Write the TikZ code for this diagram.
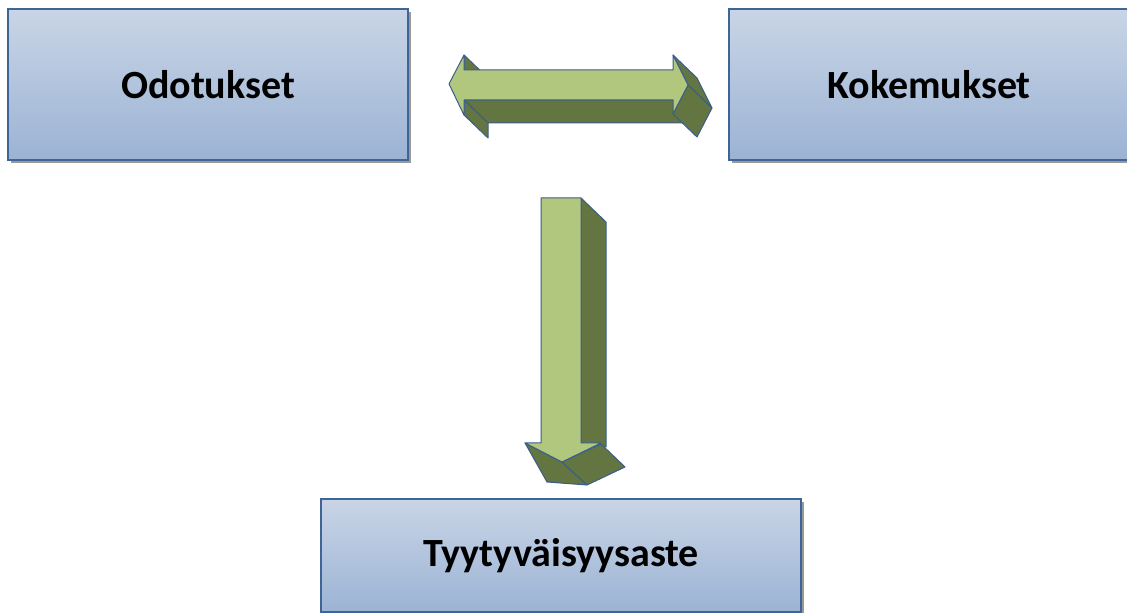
\documentclass[tikz,border=0pt]{standalone}
\usepackage{fontspec}
\setmainfont{Carlito}
\usetikzlibrary{shadows}
\definecolor{boxtop}{HTML}{C9D5E6}
\definecolor{boxbot}{HTML}{9BB3D4}
\definecolor{boxline}{HTML}{3F6496}
\definecolor{armlight}{HTML}{B1C77D}
\definecolor{armdark}{HTML}{637540}
\definecolor{armline}{HTML}{3A5E8C}

\begin{document}
\begin{tikzpicture}[
    x=0.5pt, y=-0.5pt,
    box/.style={rectangle, draw=boxline, line width=0.8pt, top color=boxtop, bottom color=boxbot, inner sep=0pt, minimum width=200pt, minimum height=75.5pt, font=\fontsize{20}{24}\selectfont\bfseries, drop shadow={shadow xshift=1.5pt, shadow yshift=-1.5pt, fill=black!40, opacity=1}},
    front/.style={fill=armlight, draw=armline, line width=0.5pt, line join=round},
    side/.style={fill=armdark, draw=armline, line width=0.5pt, line join=round}
]
\useasboundingbox (0,0) rectangle (1127,613);
\clip (0,0) rectangle (1127,613);

% Nodes
\node[box] (odotukset) at (208,84.5) {Odotukset};
\node[box] (kokemukset) at (929,84.5) {Kokemukset};
\node[box, minimum width=240pt, minimum height=56.5pt] (tyyt) at (561,555.5) {Tyytyväisyysaste};

% Two-way arrow
\filldraw[side] (464,100) -- (673,100) -- (697,123) -- (488,123) -- cycle;
\filldraw[side] (464,100) -- (464,115) -- (488,138) -- (488,123) -- cycle;
\filldraw[side] (464,55) -- (488,78) -- (488,93) -- (464,70) -- cycle;
\filldraw[side] (673,55) -- (697,78) -- (712,108) -- (688,85) -- cycle;
\filldraw[side] (688,85) -- (712,108) -- (697,137) -- (673,114) -- cycle;
\filldraw[front] (449,84) -- (464,55) -- (464,70) -- (673,70) -- (673,55) -- (688,85)
    -- (673,114) -- (673,100) -- (464,100) -- (464,115) -- cycle;

% Down arrow
\filldraw[side] (581,198) -- (606,222) -- (606,447) -- (581,443) -- cycle;
\filldraw[side] (525,443) -- (562,462) -- (587,485) -- (547,482) -- cycle;
\filldraw[side] (562,462) -- (601,444) -- (625,467) -- (587,485) -- cycle;
\filldraw[front] (541,198) -- (581,198) -- (581,443) -- (601,443) -- (562,462)
    -- (525,443) -- (541,443) -- cycle;

\end{tikzpicture}
\end{document}
